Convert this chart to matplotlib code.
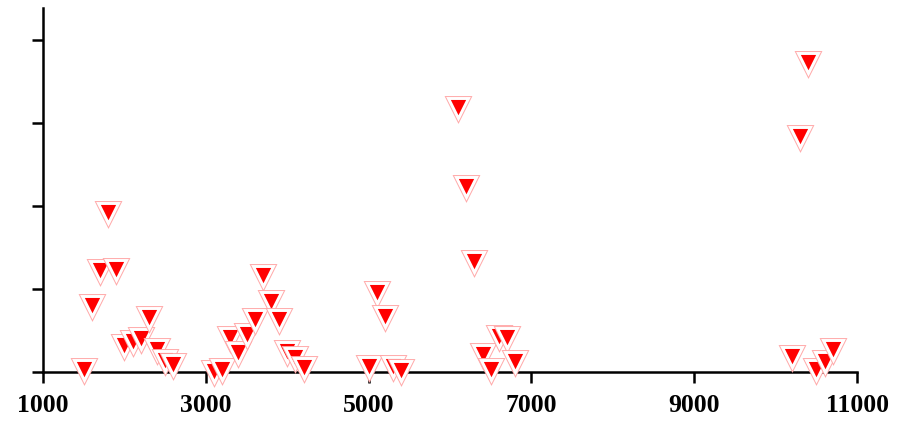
import matplotlib
matplotlib.use("Agg")
import matplotlib.pyplot as plt

# values (y in tick units)
xs = [1500, 1600, 1700, 1800, 1900, 2000, 2100, 2200, 2300, 2400, 2500, 2600,
      3100, 3200, 3300, 3400, 3500, 3600, 3700, 3800, 3900, 4000, 4100, 4200,
      5000, 5100, 5200, 5300, 5400,
      6100, 6200, 6300, 6400, 6500, 6600, 6700, 6800,
      10200, 10300, 10400, 10500, 10600, 10700]
ys = [0.02, 0.80, 1.22, 1.92, 1.23, 0.31, 0.36, 0.40, 0.65, 0.27, 0.13, 0.08,
      0.00, 0.03, 0.41, 0.23, 0.45, 0.63, 1.16, 0.84, 0.63, 0.24, 0.17, 0.05,
      0.06, 0.95, 0.66, 0.06, 0.01,
      3.18, 2.23, 1.33, 0.20, 0.02, 0.42, 0.41, 0.12,
      0.18, 2.83, 3.72, 0.02, 0.12, 0.27]
xticks = [1000, 3000, 5000, 7000, 9000, 11000]
yticks = [0, 1, 2, 3, 4]

fig = plt.figure(figsize=(9.06, 4.24), dpi=100)
ax = fig.add_axes([0.0475, 0.1226, 0.8985, 0.8585])

# each point: thin pink rim, white border, red fill
for x, y in zip(xs, ys):
    ax.plot(x, y, marker="v", ms=14.5, mfc="red", mec="#ffa8a8", mew=3.5,
            ls="none", clip_on=False, zorder=3)
    ax.plot(x, y, marker="v", ms=14.5, mfc="red", mec="white", mew=2.1,
            ls="none", clip_on=False, zorder=3)

ax.set_xlim(1000, 11000)
ax.set_ylim(0, 4.386)
ax.set_xticks(xticks)
ax.set_yticks(yticks)
ax.set_yticklabels([])
ax.set_xticklabels([str(t) for t in xticks], fontfamily="Liberation Serif",
                   fontweight="bold", fontsize=18.5)

for s in ["top", "right"]:
    ax.spines[s].set_visible(False)
for s in ["left", "bottom"]:
    ax.spines[s].set_linewidth(1.8)
ax.tick_params(direction="out", length=8, width=1.8, pad=8)

fig.savefig("out.png", dpi=100)
